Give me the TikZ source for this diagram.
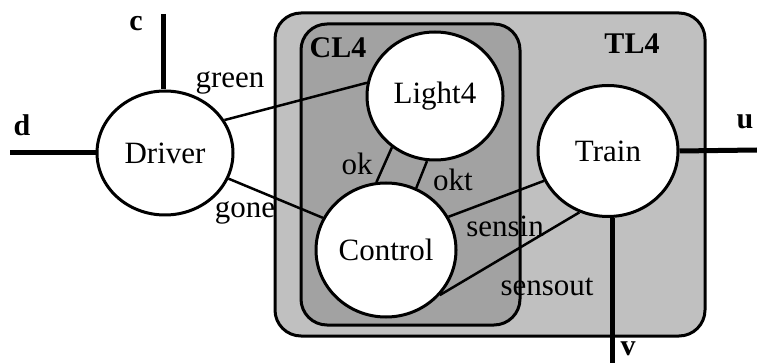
\documentclass[tikz,border=0pt]{standalone}
\usepackage{fontspec}
\setmainfont{Liberation Serif}
\usepackage{tikz}
\usetikzlibrary{shapes.geometric, positioning}
\definecolor{outergray}{RGB}{192, 192, 192}
\definecolor{innergray}{RGB}{162, 162, 162}

\begin{document}
\begin{tikzpicture}[
    x=1pt, y=-1pt,
    proc/.style={draw, ellipse, line width=3pt, fill=white, inner sep=0pt, font=\fontsize{31}{33}\selectfont},
    layer/.style={draw, line width=3pt, rounded corners=26pt},
    chan/.style={line width=2.5pt},
    port/.style={line width=5pt},
    chanlabel/.style={font=\fontsize{31}{33}\selectfont, inner sep=0pt},
    portlabel/.style={font=\fontsize{30}{32}\selectfont\bfseries, inner sep=0pt}
]
\useasboundingbox (0,0) rectangle (757,363);

% Layers
\draw[layer, fill=outergray] (275,13) rectangle (705,336);
\draw[layer, fill=innergray] (301,24) rectangle (520,325);
\node[portlabel] (cl4) at (338,48) {CL4};
\node[portlabel] (tl4) at (632,44) {TL4};

% Processes
\node[proc, minimum width=136pt, minimum height=124pt] (driver) at (165,153) {Driver};
\node[proc, minimum width=136pt, minimum height=128pt] (light) at (435,96) {Light4};
\node[proc, minimum width=140pt, minimum height=134pt] (control) at (386,250) {Control};
\node[proc, minimum width=140pt, minimum height=131pt] (train) at (608,151) {Train};

% Channels
\draw[chan] (driver.29) -- (light.169);
\draw[chan] (driver.338) -- (control.153);
\draw[chan] (light.230) -- (control.98);
\draw[chan] (light.263) -- (control.64);
\draw[chan] (control.28) -- (train.205);
\draw[chan] (control.320) -- (train.245);

\node[chanlabel] (green) at (230,83) {green};
\node[chanlabel] (gone) at (245,213) {gone};
\node[chanlabel] (ok) at (357,164) {ok};
\node[chanlabel] (okt) at (453,180) {okt};
\node[chanlabel] (sensin) at (505,226) {sensin};
\node[chanlabel] (sensout) at (547,287) {sensout};

% Ports
\coordinate (cend) at (163,14);
\coordinate (dend) at (10,153);
\coordinate (uend) at (757,150);
\coordinate (vend) at (612,363);
\draw[port] (cend) -- (driver.north -| cend);
\draw[port] (dend) -- (driver.west);
\draw[port] (train.east) -- (uend);
\draw[port] (train.south -| vend) -- (vend);

\node[portlabel] (c) at (136,24) {c};
\node[portlabel] (d) at (22,125) {d};
\node[portlabel] (u) at (745,122) {u};
\node[portlabel] (v) at (628,349) {v};

\end{tikzpicture}
\end{document}
